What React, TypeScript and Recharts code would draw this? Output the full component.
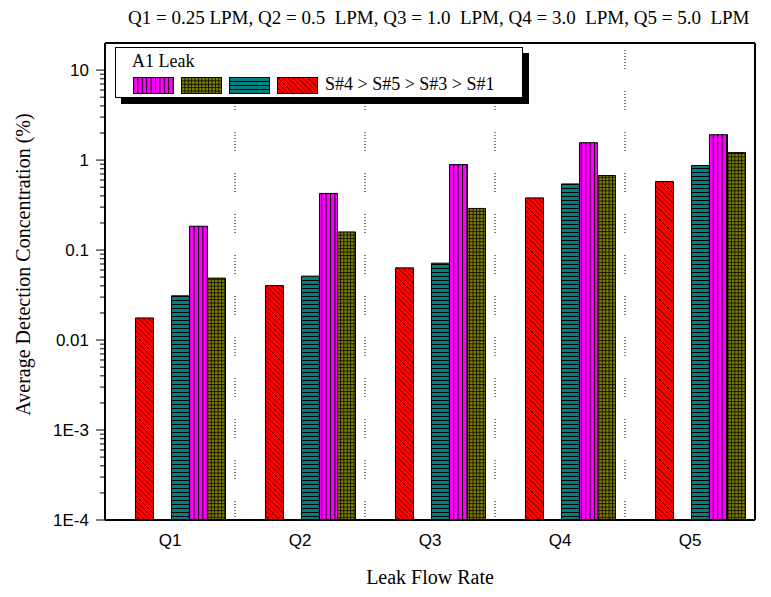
import React from 'react'
import { BarChart, Bar, XAxis, YAxis, ReferenceLine } from 'recharts'

// leak flow rates (category axis)
const categories = ['Q1', 'Q2', 'Q3', 'Q4', 'Q5']
const flowRates = ['0.25 LPM', '0.5  LPM', '1.0  LPM', '3.0  LPM', '5.0  LPM']

// average detection concentration (%) per sensor
const s1 = [0.0176, 0.0403, 0.0634, 0.38, 0.578]
const s3 = [0.031, 0.0513, 0.0714, 0.543, 0.869]
const s4 = [0.184, 0.426, 0.89, 1.56, 1.915]
const s5 = [0.0488, 0.159, 0.29, 0.673, 1.21]

// y axis decades and their labels
const yMajor = [0.0001, 0.001, 0.01, 0.1, 1, 10]
const yMajorLabels = ['1E-4', '1E-3', '0.01', '0.1', '1', '10']

// legend ranking
const legendOrder = ['S#4', 'S#5', 'S#3', 'S#1']

const seriesFill: Record<string, string> = {
  'S#1': 'url(#pRed)',
  'S#3': 'url(#pTeal)',
  'S#4': 'url(#pMag)',
  'S#5': 'url(#pOlive)',
}

const chartData = categories.map((q, i) => ({
  q,
  'S#1': s1[i],
  'S#3': s3[i],
  'S#4': s4[i],
  'S#5': s5[i],
}))

const majorLabel = new Map(yMajor.map((v, i) => [v, yMajorLabels[i]]))
const minorTicks = yMajor
  .slice(0, -1)
  .flatMap((m) => [2, 3, 4, 5, 6, 7, 8, 9].map((k) => +(k * m).toPrecision(3)))
const yTicks = [...yMajor, ...minorTicks].sort((a, b) => a - b)
const yDomain = [0.0001, 20]

const serif = '"Liberation Serif", "Times New Roman", serif'
const sans = '"Liberation Sans", Arial, sans-serif'

const YTick = (props: any) => {
  const { x, y, payload } = props
  const label = majorLabel.get(payload.value)
  const len = label ? 9 : 5
  return (
    <g>
      <line x1={x - len} x2={x} y1={y} y2={y} stroke="#000" strokeWidth={1} />
      {label && (
        <text x={x - 16} y={y} dy="0.35em" textAnchor="end" fontFamily={sans} fontSize={17} fill="#000">
          {label}
        </text>
      )}
    </g>
  )
}

const YTitle = ({ viewBox }: any) => {
  const cx = viewBox.x + 30
  const cy = viewBox.y + viewBox.height / 2 - 17
  return (
    <text x={cx} y={cy} transform={`rotate(-90 ${cx} ${cy})`} textAnchor="middle" fontFamily={serif} fontSize={20} fill="#000">
      Average Detection Concentration (%)
    </text>
  )
}

const XTitle = ({ viewBox }: any) => (
  <text x={viewBox.x + viewBox.width / 2} y={viewBox.y + 64} textAnchor="middle" fontFamily={serif} fontSize={20} fill="#000">
    Leak Flow Rate
  </text>
)

const Swatch = ({ fill }: { fill: string }) => (
  <svg width={41} height={17} style={{ display: 'block' }}>
    <rect x={0.5} y={0.5} width={40} height={16} fill={fill} stroke="#000" strokeWidth={1} />
  </svg>
)

export default function App() {
  const topNote = categories.map((q, i) => `${q} = ${flowRates[i]}`).join(', ')
  return (
    <div style={{ position: 'relative', width: 771, height: 597, margin: -8, background: '#fff' }}>
      <div
        style={{
          position: 'absolute',
          left: 128,
          top: 7,
          fontFamily: serif,
          fontSize: 19,
          lineHeight: '21px',
          whiteSpace: 'pre',
          color: '#000',
        }}
      >
        {topNote}
      </div>

      <BarChart
        width={771}
        height={597}
        data={chartData}
        margin={{ top: 43, right: 16, bottom: 0, left: 0 }}
        barCategoryGap="9.6%"
        barGap={0}
      >
        <defs>
          <pattern id="pRed" patternUnits="userSpaceOnUse" width={5} height={5}>
            <rect width={5} height={5} fill="#ff0000" />
            <path d="M0,0 L5,5 M-1,4 L1,6 M4,-1 L6,1" stroke="#600000" strokeWidth={0.8} />
          </pattern>
          <pattern id="pTeal" patternUnits="userSpaceOnUse" width={4} height={4}>
            <rect width={4} height={4} fill="#008080" />
            <path d="M0,0.5 H4" stroke="#000" strokeWidth={1} />
          </pattern>
          <pattern id="pMag" patternUnits="userSpaceOnUse" width={4.4} height={4}>
            <rect width={4.4} height={4} fill="#ff00ff" />
            <path d="M0.5,0 V4" stroke="#000" strokeWidth={1} />
          </pattern>
          <pattern id="pOlive" patternUnits="userSpaceOnUse" width={3.4} height={3.4}>
            <rect width={3.4} height={3.4} fill="#808000" />
            <path d="M0,0.5 H3.4 M0.5,0 V3.4" stroke="#000" strokeWidth={0.8} />
          </pattern>
        </defs>

        <XAxis
          dataKey="q"
          height={77}
          axisLine={{ stroke: '#000', strokeWidth: 2 }}
          tickLine={false}
          tickSize={0}
          tickMargin={14}
          tick={{ fill: '#000', fontFamily: sans, fontSize: 17 }}
          label={<XTitle />}
        />
        <YAxis
          scale="log"
          type="number"
          domain={yDomain}
          allowDataOverflow
          ticks={yTicks}
          interval={0}
          width={105}
          axisLine={{ stroke: '#000', strokeWidth: 2 }}
          tickLine={false}
          tickSize={0}
          tickMargin={0}
          tick={<YTick />}
          label={<YTitle />}
        />

        {/* dotted separators between flow-rate groups */}
        {categories.slice(1).map((q) => (
          <ReferenceLine
            key={q}
            x={q}
            position="start"
            stroke="#000"
            strokeWidth={1}
            strokeDasharray="1,2,1,2,1,2,1,2,1,2,1,2,1,22"
          />
        ))}
        {/* top and right frame */}
        <ReferenceLine y={yDomain[1]} stroke="#000" strokeWidth={2} />
        <ReferenceLine x={categories[categories.length - 1]} position="end" stroke="#000" strokeWidth={2} />

        <Bar dataKey="spacer" legendType="none" isAnimationActive={false} />
        <Bar dataKey="S#1" fill={seriesFill['S#1']} stroke="#000" strokeWidth={1} isAnimationActive={false} />
        <Bar dataKey="S#2" legendType="none" isAnimationActive={false} />
        <Bar dataKey="S#3" fill={seriesFill['S#3']} stroke="#000" strokeWidth={1} isAnimationActive={false} />
        <Bar dataKey="S#4" fill={seriesFill['S#4']} stroke="#000" strokeWidth={1} isAnimationActive={false} />
        <Bar dataKey="S#5" fill={seriesFill['S#5']} stroke="#000" strokeWidth={1} isAnimationActive={false} />
      </BarChart>

      {/* legend box with drop shadow */}
      <div
        style={{
          position: 'absolute',
          left: 115,
          top: 47,
          width: 406,
          height: 49,
          border: '1px solid #000',
          boxShadow: '6px 6px 0 #000',
          background: '#fff',
          fontFamily: serif,
          fontSize: 18,
          color: '#000',
        }}
      >
        <div style={{ position: 'absolute', left: 16, top: 3, lineHeight: '20px' }}>A1 Leak</div>
        <div style={{ position: 'absolute', left: 17, top: 29, display: 'flex', alignItems: 'center' }}>
          {legendOrder.map((k) => (
            <div key={k} style={{ marginRight: 7 }}>
              <Swatch fill={seriesFill[k]} />
            </div>
          ))}
          <span style={{ lineHeight: '17px', marginTop: -2 }}>{legendOrder.join(' > ')}</span>
        </div>
      </div>
    </div>
  )
}
